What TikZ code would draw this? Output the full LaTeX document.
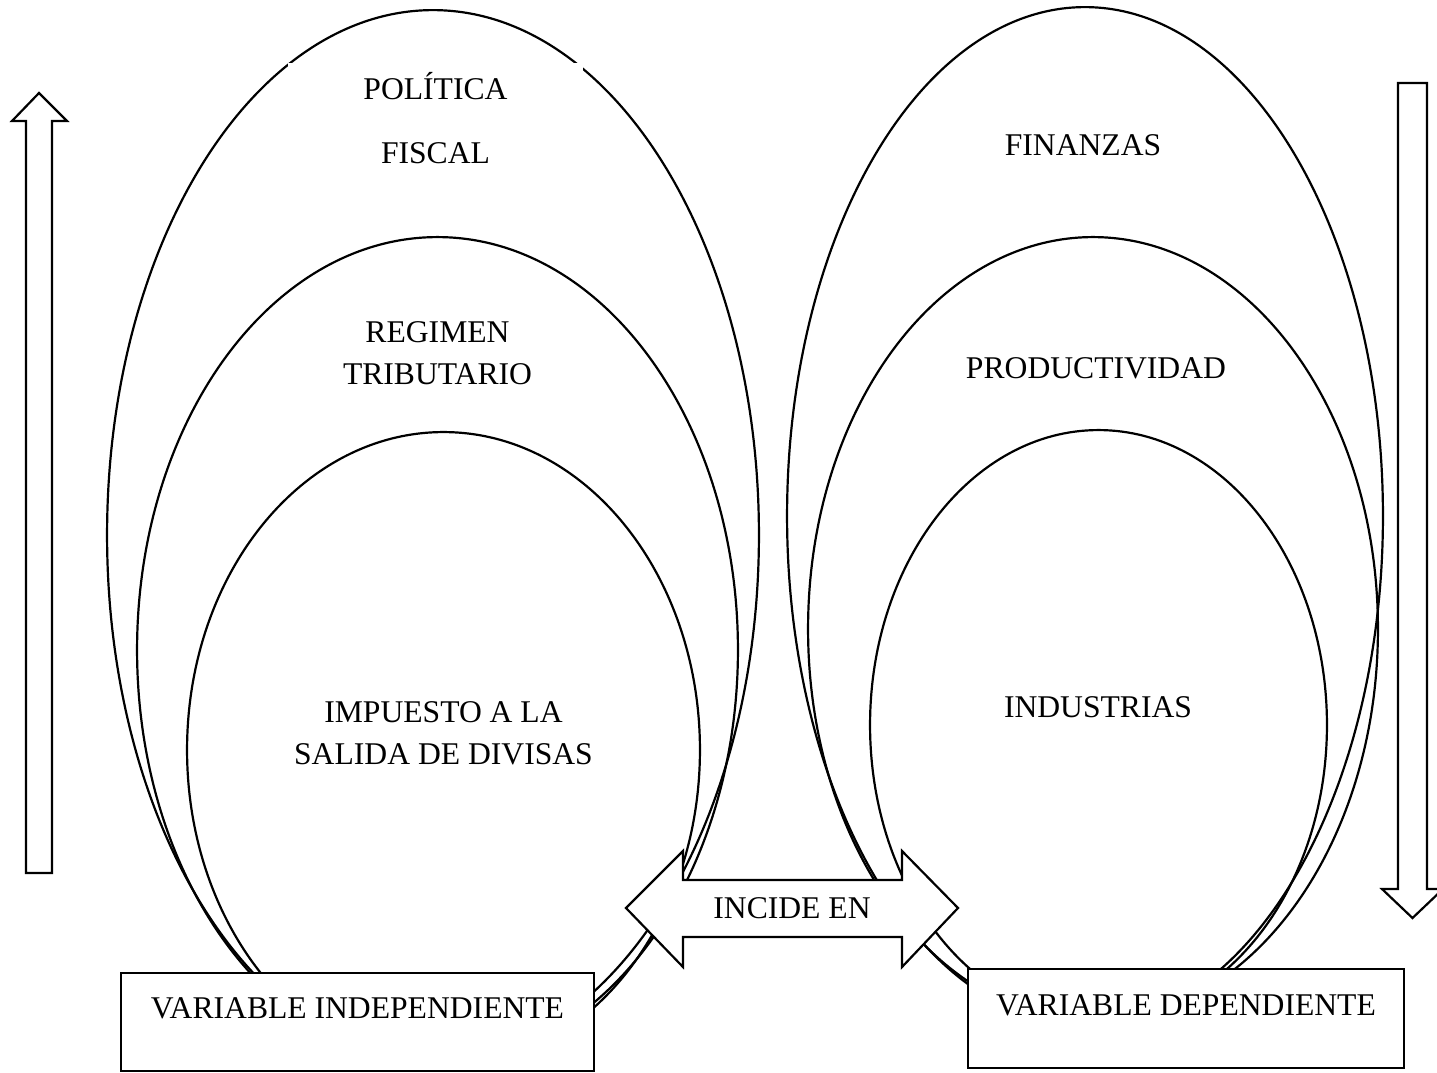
\documentclass[tikz,border=0pt]{standalone}
\usepackage{fontspec}
\setmainfont{Liberation Serif}
\usetikzlibrary{%
  calc%
}
\tikzset{>=latex, orbit/.style = {line width=1.25pt},%
  txt/.style = {font=\fontsize{18}{24}\selectfont, align=center, inner sep=0pt},%
  varbox/.style = {draw, fill=white, line width=1.25pt, inner sep=0pt,
    font=\fontsize{18}{24}\selectfont},%
  bigarrow/.style = {draw, fill=white, line width=1.25pt}}

\begin{document}
\begin{tikzpicture}[x=0.02cm,y=-0.02cm]
  \useasboundingbox (0,0) rectangle (1437,1072);
  % independiente
  \draw[orbit] (433,535) ellipse (6.52cm and 10.5cm);
  \draw[orbit] (437.5,650) ellipse (6.01cm and 8.26cm);
  \draw[orbit] (443.5,750) ellipse (5.13cm and 6.36cm);
  % dependiente
  \draw[orbit] (1085,516) ellipse (5.96cm and 10.18cm);
  \draw[orbit] (1093,629) ellipse (5.7cm and 7.84cm);
  \draw[orbit] (1098.5,725) ellipse (4.57cm and 5.9cm);

  \node[txt, fill=white, text width=5.6cm, inner xsep=0.15cm,
    inner ysep=0.19cm, anchor=north] (pf) at (435.5,63)
    {POLÍTICA\\[12.4pt]FISCAL};
  \node[txt] (rt) at (437.5,353) {REGIMEN\\TRIBUTARIO};
  \node[txt] (isd) at (443.5,733) {IMPUESTO A LA\\SALIDA DE DIVISAS};
  \node[txt] (fin) at (1083,145) {FINANZAS};
  \node[txt] (prod) at (1096,368) {PRODUCTIVIDAD};
  \node[txt] (ind) at (1098,707) {INDUSTRIAS};

  \node[varbox, minimum width=9.46cm, text height=0.9cm, text depth=1.06cm]
    (vi) at (357.5,1022) {VARIABLE INDEPENDIENTE};
  \node[varbox, minimum width=8.72cm, text height=0.92cm, text depth=1.06cm]
    (vd) at (1186,1018.5) {VARIABLE DEPENDIENTE};

  % flechas
  \draw[bigarrow] (626,908) -- (683,851) -- (683,880) -- (902,880)
    -- (902,851) -- (958,908) -- (902,967) -- (902,937) -- (683,937)
    -- (683,967) -- cycle;
  \node[txt] (inc) at (792,908) {INCIDE EN};
  \draw[bigarrow] (39,93) -- (67,121) -- (52,121) -- (52,873) -- (26,873)
    -- (26,121) -- (12,121) -- cycle;
  \draw[bigarrow] (1398,83) -- (1427,83) -- (1427,889) -- (1443,889)
    -- (1412.5,918) -- (1382,889) -- (1398,889) -- cycle;
\end{tikzpicture}
\end{document}
